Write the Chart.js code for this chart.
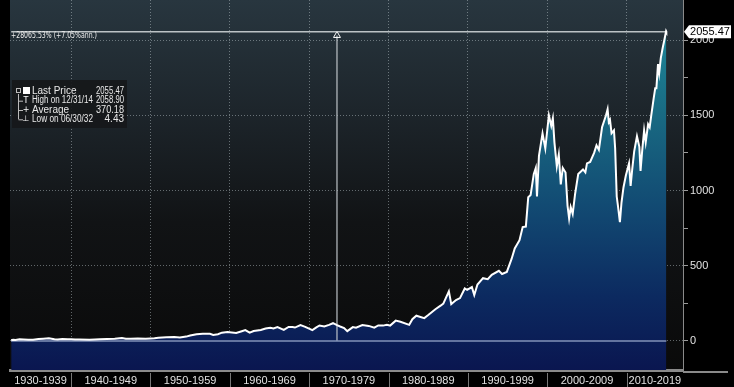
<!DOCTYPE html>
<html>
<head>
<meta charset="utf-8">
<script src="https://cdn.jsdelivr.net/npm/chart.js@4.4.1/dist/chart.umd.min.js"></script>
<style>
  html, body { margin: 0; padding: 0; background: #000; }
  #wrap { width: 734px; height: 387px; }
</style>
</head>
<body>
<div id="wrap"><canvas id="priceChart"></canvas></div>
<script>
// Données (indice, fin de mois approx.)
const years = [
  1932.45, 1932.7, 1933.0, 1933.5, 1934.0, 1934.6, 1935.2, 1935.9, 1936.5, 1937.2,
  1937.9, 1938.3, 1938.9, 1939.6, 1940.0, 1940.5, 1941.0, 1942.3, 1943.0, 1943.6,
  1944.5, 1945.5, 1946.4, 1946.9, 1947.5, 1948.4, 1949.4, 1950.0, 1950.5, 1951.0,
  1952.0, 1953.0, 1953.7, 1954.5, 1955.0, 1955.8, 1956.6, 1957.5, 1957.9, 1958.5,
  1959.0, 1959.7, 1960.8, 1961.5, 1961.95, 1962.5, 1963.0, 1963.9, 1964.5, 1965.1,
  1965.5, 1966.0, 1966.8, 1967.4, 1967.9, 1968.2, 1968.9, 1969.5, 1970.4, 1970.9,
  1971.3, 1971.9, 1972.5, 1973.0, 1973.5, 1973.9, 1974.4, 1974.8, 1975.5, 1975.9,
  1976.7, 1977.5, 1978.2, 1978.7, 1979.3, 1979.8, 1980.2, 1980.9, 1981.5, 1982.6,
  1983.0, 1983.5, 1984.5, 1985.0, 1985.9, 1986.6, 1986.9, 1987.6, 1987.9, 1988.5,
  1989.0, 1989.6, 1989.9, 1990.5, 1990.8, 1991.2, 1991.9, 1992.5, 1993.0, 1993.9,
  1994.3, 1994.9, 1995.5, 1995.9, 1996.5, 1996.9, 1997.3, 1997.6, 1997.9, 1998.3,
  1998.55, 1998.7, 1998.95, 1999.4, 1999.75, 2000.2, 2000.5, 2000.7, 2000.9, 2001.2,
  2001.45, 2001.7, 2001.95, 2002.3, 2002.55, 2002.75, 2002.95, 2003.2, 2003.5, 2003.9,
  2004.5, 2004.8, 2005.0, 2005.4, 2005.9, 2006.2, 2006.5, 2006.9, 2007.4, 2007.6,
  2007.75, 2007.9, 2008.1, 2008.4, 2008.55, 2008.75, 2008.9, 2009.15, 2009.35, 2009.6,
  2009.9, 2010.3, 2010.5, 2010.7, 2010.95, 2011.3, 2011.6, 2011.75, 2011.95, 2012.2,
  2012.4, 2012.7, 2012.9, 2013.1, 2013.4, 2013.6, 2013.75, 2013.95, 2014.1, 2014.3,
  2014.55, 2014.75, 2014.9, 2014.97, 2015.0
];
const prices = [
  4.43, 8, 7, 11, 10, 8.5, 8.5, 13, 15, 18,
  11, 9, 13, 11, 12, 9.5, 10.5, 7.8, 10, 12,
  13, 15, 19, 15, 15, 17, 14, 17, 18, 21,
  24, 26, 23, 29, 36, 45, 48, 48, 40, 45,
  55, 59, 53, 65, 72, 55, 66, 73, 83, 87,
  83, 93, 74, 93, 92, 89, 106, 94, 72, 90,
  103, 96, 107, 118, 105, 96, 86, 65, 92, 88,
  106, 100, 88, 103, 102, 108, 102, 135, 128, 107,
  145, 168, 152, 172, 211, 236, 248, 330, 245, 272,
  285, 349, 340, 358, 305, 375, 417, 410, 440, 466,
  445, 459, 545, 615, 670, 757, 760, 955, 970, 1110,
  1150, 960, 1230, 1380, 1280, 1500, 1430, 1480, 1320, 1160,
  1240, 1040, 1150, 1120, 900, 815, 890, 845, 975, 1110,
  1140, 1120, 1180, 1190, 1250, 1300, 1270, 1420, 1500, 1540,
  1455, 1470, 1380, 1400, 1280, 960, 900, 790, 920, 1020,
  1100, 1180, 1030, 1140, 1260, 1360, 1290, 1130, 1260, 1400,
  1320, 1440, 1420, 1500, 1610, 1680, 1680, 1840, 1780, 1880,
  1950, 2000, 2040, 2058.9, 2055.47
];

const decadeStarts = [1930, 1940, 1950, 1960, 1970, 1980, 1990, 2000, 2010];
const decadeLabels = ['1930-1939', '1940-1949', '1950-1959', '1960-1969', '1970-1979',
                      '1980-1989', '1990-1999', '2000-2009', '2010-2019'];
const yTicks = [0, 250, 500, 750, 1000, 1250, 1500, 1750, 2000];

const lastPrice = 2055.47;
const markerYear = 1973.5;
const changeText = '+28065.53% (+7.05%ann.)';
const statLabels = ['Last Price', 'High on 12/31/14', 'Average', 'Low on 06/30/32'];
const statValues = ['2055.47', '2058.90', '370.18', '4.43'];

const xMin = 1932.3;
const xMax = 2017.1;
const firstYear = years[0];
const endYear = years[years.length - 1];

const priceData = years.map((y, i) => ({ x: y, y: prices[i] }));

// Fond du graphique
const backgroundPlugin = {
    id: 'backgroundPlugin',
    beforeDraw(chart) {
        const { ctx, chartArea: a } = chart;
        ctx.save();
        ctx.fillStyle = '#000';
        ctx.fillRect(0, 0, chart.width, chart.height);
        const g = ctx.createLinearGradient(0, a.top, 0, a.bottom);
        g.addColorStop(0, '#28363f');
        g.addColorStop(0.3, '#1d252b');
        g.addColorStop(0.6, '#111315');
        g.addColorStop(1, '#0a0a0a');
        ctx.fillStyle = g;
        ctx.fillRect(a.left, a.top, a.right - a.left, a.bottom - a.top);
        ctx.restore();
    }
};

// Textes et décorations (légende, étiquette du dernier prix, séparateurs)
const overlayPlugin = {
    id: 'overlayPlugin',
    afterDraw(chart) {
        const { ctx, chartArea: a } = chart;
        const xs = chart.scales.x;
        const ys = chart.scales.y;
        ctx.save();

        // séparateurs sous l'axe
        ctx.strokeStyle = '#777';
        ctx.lineWidth = 1;
        decadeStarts.forEach(d => {
            const px = Math.round(xs.getPixelForValue(d)) + 0.5;
            if (px > a.left && px < a.right) {
                ctx.beginPath();
                ctx.moveTo(px, a.bottom + 3);
                ctx.lineTo(px, chart.height);
                ctx.stroke();
            }
        });
        // prolongement de l'axe à droite
        ctx.fillStyle = '#8a8a8a';
        ctx.fillRect(a.right, a.bottom + 1, chart.width - a.right - 6, 2);

        // texte de variation en haut à gauche
        ctx.fillStyle = '#ececec';
        ctx.font = '9px "DejaVu Sans"';
        ctx.textBaseline = 'middle';
        ctx.textAlign = 'left';
        ctx.fillText(changeText, a.left + 1, 36, 86);

        // boîte de légende
        const bx = 12, by = 80, bw = 115, bh = 48;
        ctx.fillStyle = 'rgba(22,24,26,0.92)';
        ctx.fillRect(bx, by, bw, bh);
        const rows = [91, 100.7, 110, 119.3];
        ctx.strokeStyle = '#bbb';
        ctx.beginPath();
        ctx.moveTo(18.5, 94);
        ctx.lineTo(18.5, rows[3]);
        rows.slice(1).forEach(r => { ctx.moveTo(18.5, r + 0.5); ctx.lineTo(23, r + 0.5); });
        ctx.stroke();
        ctx.strokeRect(16.5, 88.5, 4, 4);
        ctx.fillStyle = '#fff';
        ctx.fillRect(23, 87, 7, 7);
        ctx.font = '8px "DejaVu Sans"';
        ctx.textAlign = 'center';
        ctx.fillText('T', 26, rows[1]);
        ctx.fillText('+', 26, rows[2]);
        ctx.fillText('\u22A5', 26, rows[3]);
        ctx.font = '10px "Liberation Sans"';
        statLabels.forEach((label, i) => {
            ctx.textAlign = 'left';
            ctx.fillStyle = '#e8e8e8';
            ctx.fillText(label, 32, rows[i], 61);
            ctx.textAlign = 'right';
            ctx.fillText(statValues[i], 124, rows[i], 28);
        });

        // étiquette du dernier prix
        const py = ys.getPixelForValue(lastPrice);
        const lx = a.right + 1;
        ctx.fillStyle = '#fff';
        ctx.beginPath();
        ctx.moveTo(lx, py);
        ctx.lineTo(lx + 5, py - 6.5);
        ctx.lineTo(lx + 47, py - 6.5);
        ctx.lineTo(lx + 47, py + 6.5);
        ctx.lineTo(lx + 5, py + 6.5);
        ctx.closePath();
        ctx.fill();
        ctx.fillStyle = '#000';
        ctx.font = '11px "Liberation Sans"';
        ctx.textAlign = 'center';
        ctx.fillText(lastPrice.toFixed(2), lx + 26, py + 0.5);

        ctx.restore();
    }
};

const ctx = document.getElementById('priceChart').getContext('2d');

new Chart(ctx, {
    type: 'line',
    data: {
        datasets: [
            {
                label: 'Last Price',
                data: priceData,
                borderColor: '#ffffff',
                borderWidth: 2,
                pointRadius: 0,
                tension: 0,
                fill: 'start',
                backgroundColor: function(context) {
                    const area = context.chart.chartArea;
                    if (!area) return 'rgba(20,100,130,0.8)';
                    const g = context.chart.ctx.createLinearGradient(0, area.top, 0, area.bottom);
                    g.addColorStop(0, '#2090a0');
                    g.addColorStop(0.3, '#196b83');
                    g.addColorStop(0.55, '#124b73');
                    g.addColorStop(0.8, '#0c2a60');
                    g.addColorStop(1, '#0a1650');
                    return g;
                }
            },
            {
                label: 'zero',
                data: [{ x: firstYear, y: 0 }, { x: endYear, y: 0 }],
                borderColor: '#8393b8',
                borderWidth: 1.5,
                pointRadius: 0,
                fill: false
            },
            {
                label: 'last',
                data: [{ x: firstYear, y: lastPrice }, { x: endYear, y: lastPrice }],
                borderColor: 'rgba(215,220,222,0.85)',
                borderWidth: 1.5,
                pointRadius: 0,
                fill: false
            },
            {
                label: 'marker',
                data: [{ x: markerYear, y: 0 }, { x: markerYear, y: lastPrice - 25 }],
                borderColor: 'rgba(200,205,210,0.75)',
                borderWidth: 1.5,
                pointStyle: 'triangle',
                pointRadius: [0, 4],
                pointBorderColor: '#ffffff',
                pointBackgroundColor: 'rgba(0,0,0,0)',
                pointBorderWidth: 1,
                fill: false
            }
        ]
    },
    options: {
        responsive: true,
        maintainAspectRatio: false,
        animation: false,
        layout: { autoPadding: false, padding: { left: 10, top: 0, right: 0, bottom: 0 } },
        plugins: {
            legend: { display: false },
            tooltip: { enabled: false },
            filler: { drawTime: 'beforeDatasetsDraw' }
        },
        scales: {
            x: {
                type: 'linear',
                min: xMin,
                max: xMax,
                position: 'bottom',
                afterBuildTicks(axis) {
                    axis.ticks = decadeStarts.map(d => {
                        const lo = Math.max(d, xMin);
                        const hi = Math.min(d + 10, xMax);
                        return { value: (lo + hi) / 2 };
                    });
                },
                afterFit(axis) {
                    axis.height = 17;
                    axis.paddingLeft = 0;
                    axis.paddingRight = 0;
                },
                ticks: {
                    autoSkip: false,
                    maxRotation: 0,
                    padding: 4,
                    color: '#e0e0e0',
                    font: { family: '"Liberation Sans"', size: 11 },
                    callback: (value, index) => decadeLabels[index]
                },
                grid: { display: false, drawTicks: false, tickLength: 0 },
                border: { display: true, color: '#8a8a8a', width: 3 }
            },
            xGrid: {
                type: 'linear',
                min: xMin,
                max: xMax,
                position: 'top',
                z: 1,
                afterBuildTicks(axis) {
                    axis.ticks = decadeStarts.filter(d => d > xMin).map(d => ({ value: d }));
                },
                afterFit(axis) {
                    axis.height = 0;
                    axis.paddingLeft = 0;
                    axis.paddingRight = 0;
                },
                ticks: { display: false },
                grid: {
                    drawTicks: false,
                    color: 'rgba(200,210,215,0.45)',
                    lineWidth: 1
                },
                border: { display: false, dash: [1, 2] }
            },
            y: {
                type: 'linear',
                position: 'right',
                min: -193,
                max: 2266,
                z: 1,
                afterBuildTicks(axis) {
                    axis.ticks = yTicks.map(v => ({ value: v }));
                },
                afterFit(axis) {
                    axis.width = 51;
                    axis.paddingTop = 0;
                    axis.paddingBottom = 0;
                },
                ticks: {
                    padding: 2,
                    color: '#e0e0e0',
                    font: { family: '"Liberation Sans"', size: 11 },
                    callback: v => (v % 500 === 0 ? v : '')
                },
                grid: {
                    color: c => (c.tick && c.tick.value % 500 === 0 ? 'rgba(200,210,215,0.45)' : 'rgba(0,0,0,0)'),
                    tickColor: '#9a9a9a',
                    tickLength: 5,
                    lineWidth: 1
                },
                border: { display: true, color: '#8a8a8a', width: 1, dash: [1, 2] }
            }
        }
    },
    plugins: [backgroundPlugin, overlayPlugin]
});
</script>
</body>
</html>
